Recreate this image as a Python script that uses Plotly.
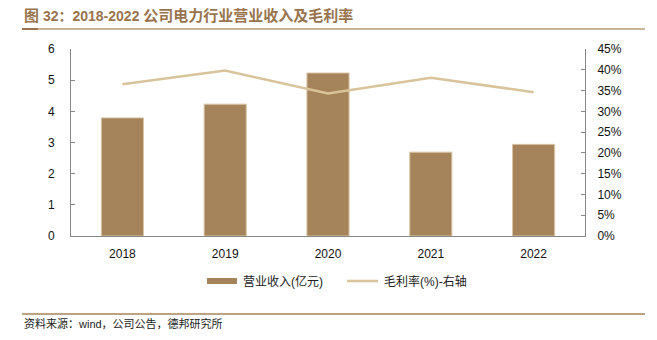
import plotly.graph_objects as go

years = ["2018", "2019", "2020", "2021", "2022"]
revenue = [3.79, 4.23, 5.23, 2.69, 2.94]
margin = [0.365, 0.398, 0.343, 0.381, 0.346]

BAR = "#A6845B"
LINE = "#D8C39B"
BROWN = "#98744E"

L, R, T, B = 71, 72, 49, 104
W, H = 657, 340
PW, PH = W - L - R, H - T - B

def px(x):
    return (x - L) / PW

def py(y):
    return (H - B - y) / PH

fig = go.Figure()
fig.add_trace(go.Bar(x=years, y=revenue, marker=dict(color=BAR, line=dict(color="#D9C4A6", width=1)),
                     width=0.41, name="营业收入(亿元)", showlegend=False))
fig.add_trace(go.Scatter(x=years, y=margin, mode="lines", line=dict(color=LINE, width=2.5),
                         yaxis="y2", name="毛利率(%)-右轴", showlegend=False))

tickfont = dict(family="Liberation Sans, Arial", size=12, color="#111111")
fig.update_layout(
    width=W, height=H,
    margin=dict(l=L, r=R, t=T, b=B),
    paper_bgcolor="white", plot_bgcolor="white",
    bargap=0.59,
    xaxis=dict(showline=True, linecolor="#888888", linewidth=1, ticks="", tickfont=tickfont,
               showgrid=False, zeroline=False, ticklabelstandoff=7),
    yaxis=dict(range=[0, 6], dtick=1, showline=True, linecolor="#888888", linewidth=1,
               ticks="inside", ticklen=4, tickcolor="#888888", showgrid=False, zeroline=False,
               tickfont=tickfont, ticklabelstandoff=13),
    yaxis2=dict(range=[0, 0.45], dtick=0.05, tickformat=".0%", overlaying="y", side="right",
                showline=True, linecolor="#888888", linewidth=1, ticks="inside", ticklen=4,
                tickcolor="#888888", showgrid=False, zeroline=False, tickfont=tickfont,
                ticklabelstandoff=9),
    showlegend=False,
)

shapes = [
    dict(type="line", xref="paper", yref="paper", x0=px(22), x1=px(645), y0=py(29), y1=py(29),
         line=dict(color="#B89B78", width=1.5)),
    dict(type="line", xref="paper", yref="paper", x0=px(22), x1=px(38), y0=py(29), y1=py(29),
         line=dict(color=BROWN, width=2)),
    dict(type="line", xref="paper", yref="paper", x0=px(22), x1=px(645), y0=py(314), y1=py(314),
         line=dict(color="#A6845B", width=1.5)),
    dict(type="rect", xref="paper", yref="paper", x0=px(207), x1=px(237), y0=py(284), y1=py(278),
         fillcolor=BAR, line=dict(width=0)),
    dict(type="line", xref="paper", yref="paper", x0=px(347), x1=px(378), y0=py(281), y1=py(281),
         line=dict(color=LINE, width=2.5)),
]
cjk = "Liberation Sans, Noto Sans CJK SC"
title = ("<b><span style='font-size:15px'>图</span> 32：2018-2022 "
         "<span style='font-size:15px'>公司电力行业营业收入及毛利率</span></b>")
annotations = [
    dict(text=title, xref="paper", yref="paper",
         x=px(22), y=py(16), xanchor="left", yanchor="middle", showarrow=False,
         font=dict(family=cjk, size=14, color=BROWN)),
    dict(text="营业收入(亿元)", xref="paper", yref="paper", x=px(241), y=py(281),
         xanchor="left", yanchor="middle", showarrow=False,
         font=dict(family=cjk, size=12, color="#222222")),
    dict(text="毛利率(%)-右轴", xref="paper", yref="paper", x=px(382), y=py(281),
         xanchor="left", yanchor="middle", showarrow=False,
         font=dict(family=cjk, size=12, color="#222222")),
    dict(text="资料来源：wind，公司公告，德邦研究所", xref="paper", yref="paper", x=px(22), y=py(323),
         xanchor="left", yanchor="middle", showarrow=False,
         font=dict(family=cjk, size=11, color="#222222")),
]
fig.update_layout(shapes=shapes, annotations=annotations)
fig.write_html("out.html")
